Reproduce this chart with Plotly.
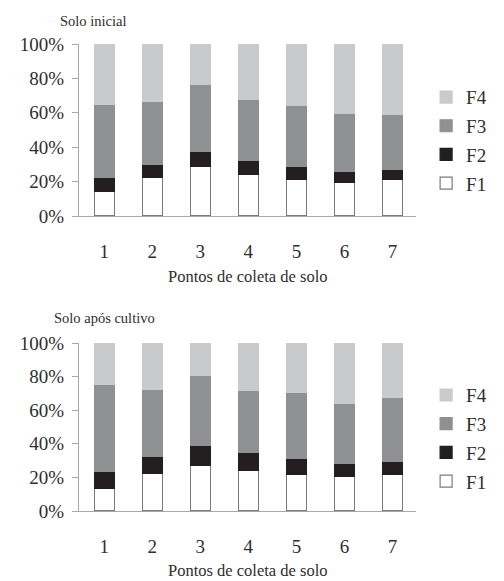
import plotly.graph_objects as go

pontos = ["1", "2", "3", "4", "5", "6", "7"]
fracoes = ["F1", "F2", "F3", "F4"]

inicial_F1 = [14.3, 22.5, 28.7, 24.0, 21.3, 19.6, 21.3]
inicial_F2 = [8.0, 7.5, 9.1, 8.6, 7.6, 6.6, 5.8]
inicial_F3 = [42.8, 36.5, 38.8, 35.2, 35.4, 33.7, 32.2]
inicial_F4 = [34.9, 33.5, 23.4, 32.2, 35.7, 40.1, 40.7]

cultivo_F1 = [13.3, 22.1, 27.2, 23.9, 21.9, 20.7, 21.9]
cultivo_F2 = [10.2, 10.7, 11.6, 10.9, 9.5, 7.7, 7.7]
cultivo_F3 = [51.6, 39.8, 41.7, 37.2, 39.4, 35.8, 38.0]
cultivo_F4 = [24.9, 27.4, 19.5, 28.0, 29.2, 35.8, 32.4]

y_ticks = [0, 20, 40, 60, 80, 100]
y_labels = ["0%", "20%", "40%", "60%", "80%", "100%"]

fill = {"F1": "#ffffff", "F2": "#231f20", "F3": "#8f9092", "F4": "#c9cacc"}
edge = {"F1": "#7a7a7a", "F2": "#231f20", "F3": "#8f9092", "F4": "#c9cacc"}
rank = {"F1": 4, "F2": 3, "F3": 2, "F4": 1}

FONT = "Liberation Serif, Times New Roman, serif"
TXT = "#2e2e2e"

fig = go.Figure()

panels = [
    ("x", "y", "legend", [inicial_F1, inicial_F2, inicial_F3, inicial_F4]),
    ("x2", "y2", "legend2", [cultivo_F1, cultivo_F2, cultivo_F3, cultivo_F4]),
]
for xa, ya, lg, series in panels:
    for name, vals in zip(fracoes, series):
        fig.add_trace(go.Bar(
            x=pontos, y=vals, name=name, xaxis=xa, yaxis=ya, legend=lg,
            legendgroup=lg + name, legendrank=rank[name], width=0.42,
            marker=dict(color=fill[name], line=dict(color=edge[name], width=1.2)),
        ))

axis_common_x = dict(
    type="category", range=[-0.525, 6.49], showgrid=False, zeroline=False,
    showline=True, linecolor="#a8a8a8", linewidth=1, ticks="",
    tickfont=dict(family=FONT, size=19, color=TXT), ticklabelstandoff=18,
)
axis_common_y = dict(
    range=[0, 100], tickmode="array", tickvals=y_ticks, ticktext=y_labels,
    showgrid=False, zeroline=False,
    showline=True, linecolor="#a8a8a8", linewidth=1, ticks="outside", ticklen=6,
    tickcolor="#a8a8a8", tickfont=dict(family=FONT, size=19, color=TXT),
    ticklabelstandoff=4,
)

legend_common = dict(
    x=1.03, xanchor="left", yanchor="middle", traceorder="grouped",
    tracegroupgap=1, font=dict(family=FONT, size=19, color=TXT),
    bgcolor="rgba(0,0,0,0)",
)

fig.update_layout(
    width=496, height=573, barmode="stack", plot_bgcolor="white", paper_bgcolor="white",
    margin=dict(l=65, r=44, t=36, b=70),
    xaxis=dict(domain=[0, 1], anchor="y", **axis_common_x),
    yaxis=dict(domain=[0.6317, 1.0], anchor="x", **axis_common_y),
    xaxis2=dict(domain=[0, 1], anchor="y2", **axis_common_x),
    yaxis2=dict(domain=[0.0, 0.3597], anchor="x2", **axis_common_y),
    legend=dict(y=0.794, **legend_common),
    legend2=dict(y=0.156, **legend_common),
    font=dict(family=FONT, color=TXT),
    annotations=[
        dict(text="Solo inicial", xref="paper", yref="paper", x=-0.062, y=1.049,
             xanchor="left", yanchor="middle", showarrow=False,
             font=dict(family=FONT, size=14.5, color=TXT)),
        dict(text="Solo após cultivo", xref="paper", yref="paper", x=-0.08, y=0.413,
             xanchor="left", yanchor="middle", showarrow=False,
             font=dict(family=FONT, size=14.5, color=TXT)),
        dict(text="Pontos de coleta de solo", xref="paper", yref="paper", x=0.5,
             y=(511 - 276) / 467, xanchor="center", yanchor="middle", showarrow=False,
             font=dict(family=FONT, size=16.5, color=TXT)),
        dict(text="Pontos de coleta de solo", xref="paper", yref="paper", x=0.5,
             y=(511 - 570) / 467, xanchor="center", yanchor="middle", showarrow=False,
             font=dict(family=FONT, size=16.5, color=TXT)),
    ],
)

fig.write_html("out.html")
